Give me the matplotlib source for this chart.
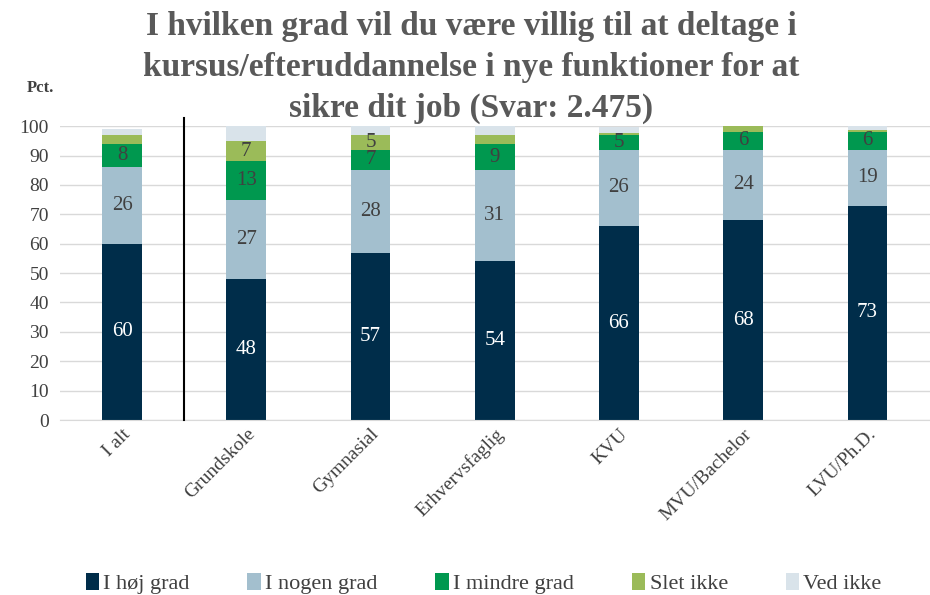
import matplotlib.pyplot as plt
import numpy as np

# data
kategorier = ["I alt", "Grundskole", "Gymnasial", "Erhvervsfaglig", "KVU", "MVU/Bachelor", "LVU/Ph.D."]
hoej_grad = [60, 48, 57, 54, 66, 68, 73]
nogen_grad = [26, 27, 28, 31, 26, 24, 19]
mindre_grad = [8, 13, 7, 9, 5, 6, 6]
slet_ikke = [3, 7, 5, 3, 0.5, 1.9, 0.6]
ved_ikke = [2, 5, 3, 3, 2.3, 0.3, 1.3]

serier = [
    ("I høj grad", hoej_grad, "#002D4A", "white", True),
    ("I nogen grad", nogen_grad, "#A3BFCE", "#404040", True),
    ("I mindre grad", mindre_grad, "#00984F", "#404040", True),
    ("Slet ikke", slet_ikke, "#9BBB59", "#404040", True),
    ("Ved ikke", ved_ikke, "#D9E3EA", "#404040", False),
]

plt.rcParams["font.family"] = ["Liberation Serif", "DejaVu Serif"]

fig = plt.figure(figsize=(9.3, 5.95), dpi=100)
ax = fig.add_axes([0.0645, 0.294, 0.935, 0.494])

x = np.arange(len(kategorier))
bund = np.zeros(len(kategorier))
for navn, vaerdier, farve, tekstfarve, vis in serier:
    v = np.array(vaerdier, dtype=float)
    ax.bar(x, v, 0.32, bottom=bund, color=farve, label=navn, zorder=2)
    for xi, b, h in zip(x, bund, v):
        if vis and h >= 4.5:  # kun synlige etiketter
            ax.text(xi, b + h / 2, f"{h:.0f}", ha="center", va="center",
                    fontsize=15, color=tekstfarve, zorder=3)
    bund += v

ax.set_xlim(-0.5, len(kategorier) - 0.5)
ax.set_ylim(0, 100)
ax.set_yticks(range(0, 101, 10))
ax.tick_params(axis="y", length=0, labelsize=14, colors="#404040", pad=8)
ax.tick_params(axis="x", length=0, labelsize=14, colors="#404040", pad=4)
ax.set_xticks(x)
ax.set_xticklabels(kategorier, rotation=45, ha="right", rotation_mode="anchor")
ax.grid(axis="y", color="#D9D9D9", lw=1, zorder=0)
for s in ["top", "right", "left"]:
    ax.spines[s].set_visible(False)
ax.spines["bottom"].set_color("#D9D9D9")

# skillelinje mellem I alt og resten
ax.plot([0.5, 0.5], [0, 102.8], color="black", lw=1.5, clip_on=False, zorder=4)

fig.text(0.507, 0.982, "I hvilken grad vil du være villig til at deltage i\n"
         "kursus/efteruddannelse i nye funktioner for at\n"
         "sikre dit job (Svar: 2.475)", ha="center", va="top",
         fontsize=24, fontweight="bold", color="#595959", linespacing=1.42)
fig.text(0.043, 0.852, "Pct.", ha="center", va="center", fontsize=12,
         fontweight="bold", color="#404040")

fig.legend(loc="lower center", bbox_to_anchor=(0.52, -0.032), ncol=5, frameon=False,
           fontsize=16, handlelength=0.6, handleheight=0.8, columnspacing=2.6,
           handletextpad=0.2, labelcolor="#404040")

fig.savefig("out.png", dpi=100)
